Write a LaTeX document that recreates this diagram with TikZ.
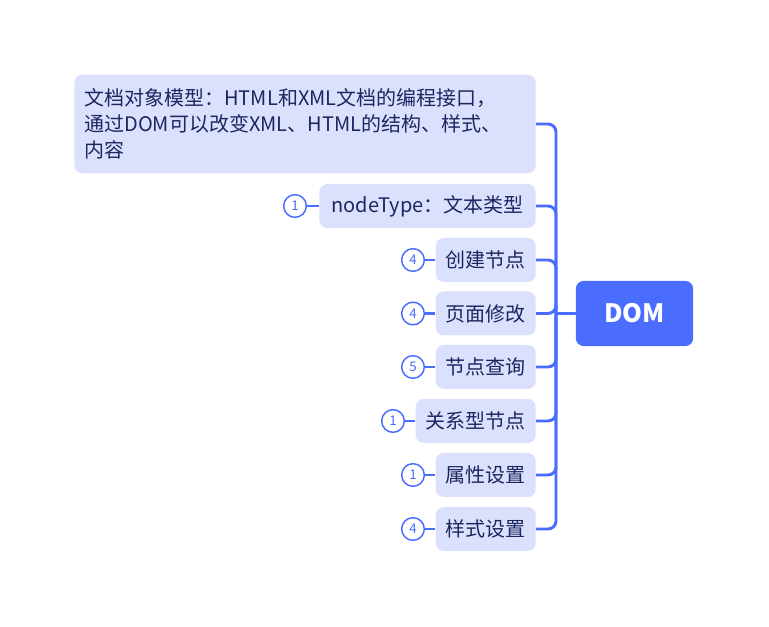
\documentclass[tikz,border=0pt]{standalone}
\usepackage{fontspec}
\setmainfont{Noto Sans CJK SC}
\setsansfont{Noto Sans CJK SC}
\definecolor{mblue}{HTML}{4A6CFF}
\definecolor{mfill}{HTML}{DBE1FD}
\definecolor{mtext}{HTML}{1C2660}
\begin{document}
\begin{tikzpicture}[x=0.75pt,y=-0.75pt,
  child/.style={fill=mfill,rounded corners=6pt,text=mtext,font=\fontsize{15pt}{19.5pt}\selectfont,anchor=east,inner xsep=7.5pt,minimum height=33pt},
  badge/.style={circle,draw=mblue,line width=1.1pt,fill=white,text=mblue,inner sep=0pt,minimum size=17pt,font=\fontsize{10pt}{10pt}\selectfont},
  link/.style={draw=mblue,line width=2.2pt,rounded corners=6pt},
  blink/.style={draw=mblue,line width=2pt}]
\useasboundingbox (0,0) rectangle (769,627);
\node[fill=mblue,rounded corners=6pt,text=white,font=\bfseries\fontsize{19pt}{19pt}\selectfont,minimum width=88pt,minimum height=49pt] (dom) at (634.5,313.5) {DOM};
\coordinate (trunk) at (556,313.5);
\node[child,text width=331pt,align=left,minimum height=74pt] (c1) at (536,124) {文档对象模型：HTML和XML文档的编程接口，\\通过DOM可以改变XML、HTML的结构、样式、\\内容};
\node[child,inner xsep=9pt] (c2) at (536,206) {nodeType：文本类型};
\node[child] (c3) at (536,260) {创建节点};
\node[child] (c4) at (536,313.5) {页面修改};
\node[child] (c5) at (536,367) {节点查询};
\node[child] (c6) at (536,421) {关系型节点};
\node[child] (c7) at (536,475) {属性设置};
\node[child] (c8) at (536,529) {样式设置};
\foreach \i in {1,...,8} {\draw[link] (c\i.east) -| (trunk);}
\draw[link] (trunk) -- (dom.west);
\node[badge] (b2) at (295,206) {1};
\node[badge] (b3) at (413,260) {4};
\node[badge] (b4) at (413,313.5) {4};
\node[badge] (b5) at (413,367) {5};
\node[badge] (b6) at (393,421) {1};
\node[badge] (b7) at (413,475) {1};
\node[badge] (b8) at (413,529) {4};
\foreach \i in {2,...,8} {\draw[blink] (b\i.east) -- (c\i.west);}
\end{tikzpicture}
\end{document}
